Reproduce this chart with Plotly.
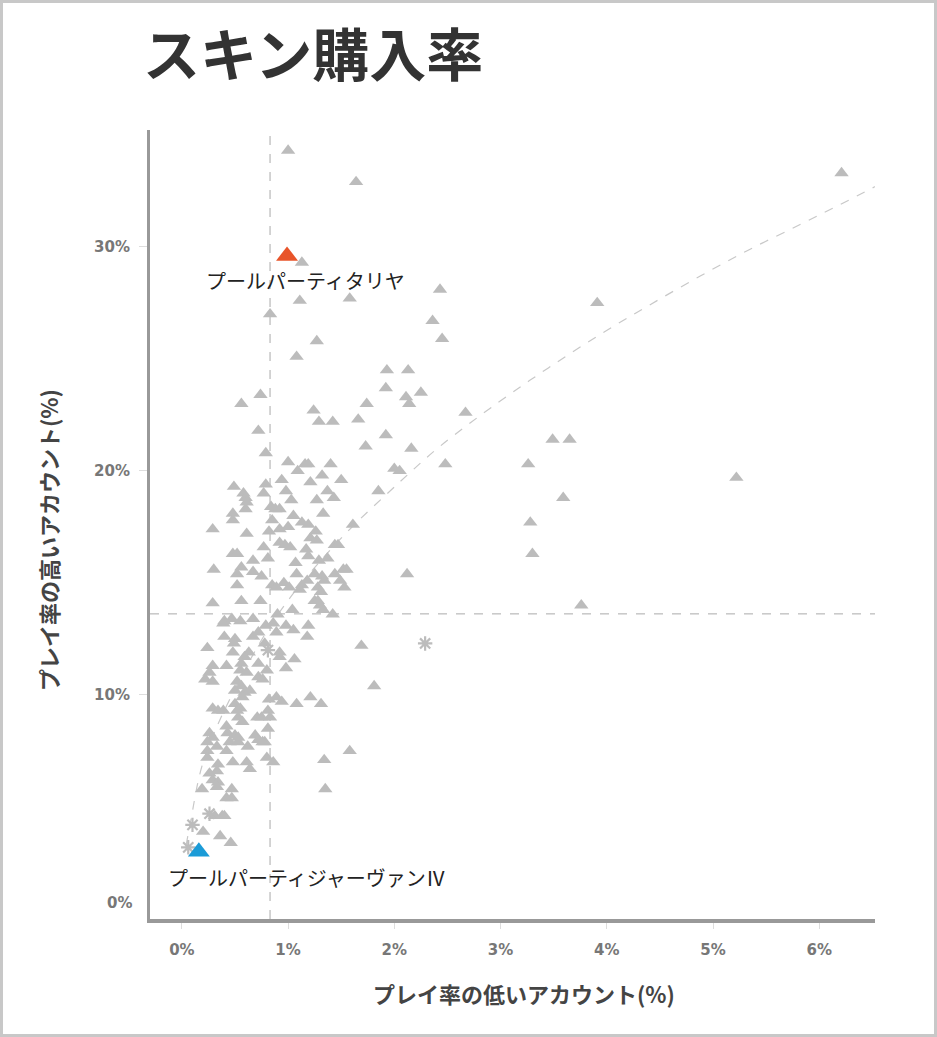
import plotly.graph_objects as go

# ---------------- data (percent) ----------------
low_rate = [
    1.00, 1.64, 6.21, 1.13, 1.11, 1.58, 0.83, 2.43, 2.36, 2.45, 1.27, 1.08, 3.91, 1.93, 2.13,
    1.92, 2.25, 2.11, 2.14, 0.74, 0.56, 1.74, 1.24, 1.29, 1.42, 1.66, 2.67, 0.72, 1.92, 1.73,
    3.49, 3.65, 2.16, 0.79, 1.00, 1.16, 1.19, 1.40, 2.48, 3.26, 1.09, 2.05, 1.32, 2.00, 5.22,
    0.94, 1.50, 1.21, 0.79, 0.49, 0.98, 1.37, 0.77, 1.85, 0.58, 0.60, 1.43, 1.27, 1.03, 3.59,
    0.61, 0.84, 0.88, 0.92, 0.60, 1.33, 1.05, 0.48, 0.48, 0.85, 1.13, 1.19, 1.61, 1.00, 0.29,
    0.92, 0.82, 1.26, 3.28, 0.61, 1.21, 1.27, 0.92, 0.97, 1.02, 1.44, 1.47, 0.77, 1.17, 0.48,
    0.52, 1.19, 3.30, 0.81, 0.67, 1.37, 1.29, 1.07, 0.56, 0.30, 0.67, 0.52, 0.75, 1.08, 1.25,
    1.32, 1.34, 1.44, 1.52, 1.55, 1.49, 2.12, 0.85, 0.89, 0.96, 1.01, 1.13, 1.18, 1.11, 1.28,
    1.31, 1.53, 0.52, 0.29, 0.56, 0.74, 1.25, 1.30, 1.28, 0.90, 1.04, 1.33, 1.42, 3.76, 0.40,
    0.47, 0.55, 0.67,
    0.39, 0.79, 0.86, 0.98, 1.05, 1.19, 0.40, 0.50, 0.67, 0.72, 0.89, 1.18, 0.49, 0.48, 0.78,
    0.24, 1.69, 0.92, 0.92, 1.06, 0.63, 0.59, 0.56, 0.72, 0.98, 0.29, 0.26, 0.42, 0.55, 0.61,
    0.80, 0.72, 0.76, 0.22, 0.29, 0.52, 0.56, 0.50, 0.59, 0.64, 0.57, 1.81, 0.82, 0.89, 0.94,
    1.08, 1.21, 1.31, 0.29, 0.34, 0.39, 0.50, 0.52, 0.55, 0.53, 0.57, 0.71, 0.75, 0.81, 0.83,
    0.81, 0.42, 0.43, 0.50, 0.53, 0.26, 0.29, 0.69, 0.72, 0.78, 1.58,
    0.24, 0.33, 0.24, 0.45, 0.53, 0.42, 0.62, 0.76, 0.24, 0.48, 0.61, 0.64, 0.80, 0.86, 0.34,
    0.33, 0.26, 0.29, 0.34, 0.19, 0.33, 0.47, 0.42, 0.47, 1.34, 1.35, 0.38, 0.40, 0.31, 0.20,
    0.36, 0.46,
]
high_rate = [
    34.3, 32.9, 33.3, 29.3, 27.6, 27.7, 27.0, 28.1, 26.7, 25.9, 25.8, 25.1, 27.5, 24.5, 24.5,
    23.7, 23.5, 23.3, 23.0, 23.4, 23.0, 23.0, 22.7, 22.2, 22.2, 22.3, 22.6, 21.8, 21.6, 21.1,
    21.4, 21.4, 21.0, 20.8, 20.4, 20.3, 20.3, 20.3, 20.3, 20.3, 20.0, 20.0, 19.8, 20.1, 19.7,
    19.6, 19.6, 19.5, 19.4, 19.3, 19.1, 19.1, 19.0, 19.1, 19.0, 18.8, 18.8, 18.7, 18.7, 18.8,
    18.6, 18.4, 18.3, 18.3, 18.3, 18.1, 18.0, 18.1, 17.8, 17.8, 17.7, 17.6, 17.6, 17.5, 17.4,
    17.4, 17.3, 17.3, 17.7, 17.2, 17.0, 16.9, 16.8, 16.7, 16.6, 16.7, 16.7, 16.6, 16.5, 16.3,
    16.3, 16.2, 16.3, 16.1, 16.0, 16.1, 16.0, 15.9, 15.7, 15.6, 15.5, 15.4, 15.3, 15.4, 15.4,
    15.3, 15.1, 15.4, 15.6, 15.6, 15.1, 15.4, 14.9, 14.8, 15.0, 14.8, 14.9, 15.1, 14.7, 14.8,
    14.6, 14.8, 14.9, 14.1, 14.2, 14.2, 14.2, 14.0, 14.2, 13.6, 13.8, 13.8, 13.6, 14.0, 13.3,
    13.4, 13.3, 13.4,
    13.2, 13.1, 13.2, 13.1, 12.9, 13.1, 12.6, 12.5, 12.6, 12.8, 12.8, 12.6, 12.3, 11.9, 12.3,
    12.1, 12.2, 11.9, 11.7, 11.6, 11.9, 11.7, 11.4, 11.4, 11.2, 11.3, 11.0, 11.3, 11.1, 11.0,
    11.1, 10.8, 10.7, 10.7, 10.6, 10.6, 10.4, 10.2, 10.1, 10.2, 9.9, 10.4, 9.8, 9.9, 9.7,
    9.6, 9.9, 9.6, 9.4, 9.3, 9.3, 9.6, 9.3, 9.4, 9.0, 8.8, 9.0, 9.0, 9.3, 9.0,
    8.5, 8.6, 8.3, 8.2, 8.1, 8.3, 8.1, 8.2, 8.0, 7.9, 7.5,
    7.9, 7.7, 7.5, 7.9, 7.9, 7.5, 7.7, 7.9, 7.2, 7.0, 7.0, 6.7, 7.2, 7.0, 6.9,
    6.6, 6.5, 6.2, 6.1, 5.8, 5.9, 5.8, 5.4, 5.4, 7.1, 5.8, 4.6, 4.6, 4.6, 3.9,
    3.7, 3.4,
]

star_low = [2.29, 0.10, 0.06, 0.26, 0.81]
star_high = [12.3, 4.2, 3.2, 4.7, 12.0]

hl_names = ["プールパーティタリヤ", "プールパーティジャーヴァンⅣ"]
hl_low = [0.99, 0.16]
hl_high = [29.6, 3.0]
hl_colors = ["#E8542A", "#1B9BD7"]

trend_low = [0.04, 0.08, 0.20, 0.45, 0.89, 1.46, 2.05, 2.43, 2.99, 3.45, 3.94, 4.40, 4.88,
             5.35, 5.82, 6.20, 6.57]
trend_high = [3.3, 4.3, 7.0, 9.8, 13.5, 16.8, 19.5, 21.1, 23.1, 24.6, 26.1, 27.4, 28.7,
              29.9, 31.0, 31.9, 32.8]

avg_low = 0.83
avg_high = 13.62

x_ticks = [0, 1, 2, 3, 4, 5, 6]
y_ticks = [10, 20, 30]

# ---------------- figure ----------------
W, H = 937, 1037
ML, MR, MT, MB = 150, 62, 130, 118
XR = [-0.30, 6.525]
YR = [0, 35.22]

GRAY = "rgb(188,188,188)"
JP = "Noto Sans CJK JP"

fig = go.Figure()

fig.add_trace(go.Scatter(
    x=trend_low, y=trend_high, mode="lines", line_shape="spline",
    line=dict(color="#c8c8c8", width=1.2, dash="dash"), hoverinfo="skip"))

fig.add_trace(go.Scatter(
    x=low_rate, y=high_rate, mode="markers",
    marker=dict(symbol="triangle-up", size=12.5, color=GRAY, line=dict(width=0)),
    hoverinfo="skip"))

fig.add_trace(go.Scatter(
    x=star_low, y=star_high, mode="markers",
    marker=dict(symbol="asterisk-open", size=12, color=GRAY, line=dict(width=2.2, color=GRAY)),
    hoverinfo="skip"))

fig.add_trace(go.Scatter(
    x=hl_low, y=hl_high, mode="markers",
    marker=dict(symbol="triangle-up", size=19, color=hl_colors, line=dict(width=0)),
    hoverinfo="skip"))

pw = W - ML - MR
ph = H - MT - MB

shapes = [
    dict(type="line", xref="x", yref="paper", x0=avg_low, x1=avg_low, y0=0, y1=1,
         line=dict(color="#aaaaaa", width=1, dash="dash"), layer="below"),
    dict(type="line", xref="paper", yref="y", x0=0, x1=1, y0=avg_high, y1=avg_high,
         line=dict(color="#aaaaaa", width=1, dash="dash"), layer="below"),
    dict(type="rect", xref="paper", yref="paper",
         x0=-ML / pw, x1=1 + MR / pw, y0=-MB / ph, y1=1 + MT / ph,
         line=dict(color="#c8c8c8", width=6), fillcolor="rgba(0,0,0,0)"),
]

annotations = [
    dict(x=hl_low[0], y=hl_high[0], xref="x", yref="y", text=hl_names[0], showarrow=False,
         xshift=18, yshift=-25, font=dict(family=JP, size=20, color="#222")),
    dict(x=hl_low[1], y=hl_high[1], xref="x", yref="y", text=hl_names[1], showarrow=False,
         xshift=108, yshift=-26, font=dict(family=JP, size=20, color="#222")),
    dict(x=-16 / pw, y=0, xref="paper", yref="y", text="0%", showarrow=False,
         xanchor="right", yanchor="middle", yshift=16,
         font=dict(family="DejaVu Sans", size=15, color="#777", weight="bold")),
    dict(x=(524 - ML) / pw, y=-(993 - (H - MB)) / ph, xref="paper", yref="paper",
         text="プレイ率の低いアカウント(%)", showarrow=False, xanchor="center", yanchor="middle",
         font=dict(family=JP, size=22, color="#444", weight="bold")),
    dict(x=-(ML - 48) / pw, y=(H - MB - 540) / ph, xref="paper", yref="paper",
         text="プレイ率の高いアカウント(%)", showarrow=False, textangle=-90,
         xanchor="center", yanchor="middle",
         font=dict(family=JP, size=22, color="#444", weight="bold")),
]

fig.update_layout(
    width=W, height=H,
    margin=dict(l=ML, r=MR, t=MT, b=MB, pad=0),
    paper_bgcolor="white", plot_bgcolor="white",
    showlegend=False, hovermode=False,
    title=dict(text="スキン購入率", x=143 / W, xanchor="left", y=1 - 56 / H, yanchor="middle",
               xref="container", yref="container",
               font=dict(family=JP, size=57, color="#333", weight="bold")),
    shapes=shapes, annotations=annotations,
    xaxis=dict(range=XR, tickvals=x_ticks, ticktext=[f"{v}%" for v in x_ticks],
               showgrid=False, zeroline=False, showline=True, linecolor="#999", linewidth=4,
               ticks="outside", ticklen=6, tickcolor="#dddddd", tickwidth=1,
               ticklabelstandoff=8,
               tickfont=dict(family="DejaVu Sans", size=15, color="#777", weight="bold")),
    yaxis=dict(range=YR, tickvals=y_ticks, ticktext=[f"{v}%" for v in y_ticks],
               showgrid=False, zeroline=False, showline=True, linecolor="#999", linewidth=3,
               ticks="outside", ticklen=8, tickcolor="#dddddd", tickwidth=1,
               ticklabelstandoff=6,
               tickfont=dict(family="DejaVu Sans", size=15, color="#777", weight="bold")),
)

fig.write_html("out.html", config={"displayModeBar": False},
               post_script="document.body.style.margin='0px';document.body.style.overflow='hidden';")
